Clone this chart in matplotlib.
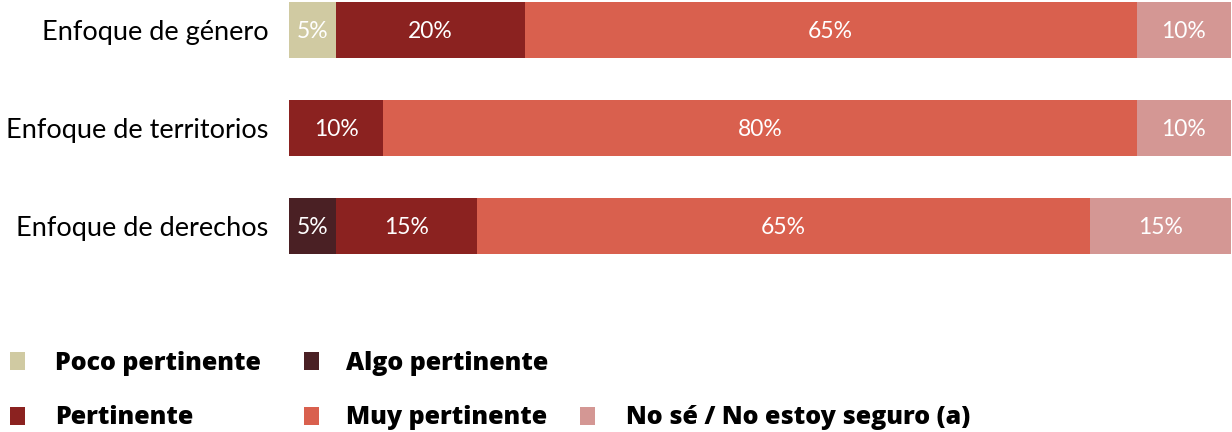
import matplotlib.pyplot as plt
from matplotlib.patches import Rectangle
import numpy as np

categories = ["Enfoque de género", "Enfoque de territorios", "Enfoque de derechos"]
series_names = ["Poco pertinente", "Algo pertinente", "Pertinente",
                "Muy pertinente", "No sé / No estoy seguro (a)"]
poco = [5, 0, 0]
algo = [0, 0, 5]
pertinente = [20, 10, 15]
muy = [65, 80, 65]
no_se = [10, 10, 15]
colors = ["#D0CAA2", "#4A2024", "#8B2220", "#D9604E", "#D49794"]

W, H = 1232, 432
fig = plt.figure(figsize=(W / 100, H / 100), dpi=100)

# axes in pixel terms: bars span x 289..1231, rows spaced 98 px
ax = fig.add_axes([289 / W, 1 - 260 / H, (1231 - 289) / W, 260 / H])
y = np.arange(len(categories))
left = np.zeros(len(categories))
for name, vals, col in zip(series_names, [poco, algo, pertinente, muy, no_se], colors):
    vals = np.array(vals, dtype=float)
    ax.barh(y, vals, left=left, height=0.57, color=col, edgecolor="none")
    for yi, l, v in zip(y, left, vals):
        if v > 0:
            ax.text(l + v / 2, yi + 0.02, f"{v:g}%", ha="center", va="center",
                    color="white", fontsize=16.5, family="Lato")
    left += vals

ax.set_xlim(0, 100)
ax.set_ylim(-30 / 98 + 260 / 98, -30 / 98)
ax.set_yticks(y)
ax.set_yticklabels(categories, fontsize=19.5, family="Lato")
ax.tick_params(axis="y", length=0, pad=15)
ax.set_xticks([])
for s in ax.spines.values():
    s.set_visible(False)

# legend drawn by hand in two rows
legend_items = [
    (0, 10, 55, 361), (1, 304, 346, 361),
    (2, 10, 55, 416), (3, 304, 346, 416), (4, 580, 626, 416),
]
for idx, sx, tx, cy in legend_items:
    fig.add_artist(Rectangle((sx / W, 1 - (cy + 9) / H), 15 / W, 18 / H,
                             transform=fig.transFigure, color=colors[idx], lw=0))
    fig.text(tx / W, 1 - (cy + 2) / H, series_names[idx], ha="left", va="center",
             fontsize=18, family="Open Sans", fontweight=800, color="black")

fig.savefig("out.png", dpi=100)
